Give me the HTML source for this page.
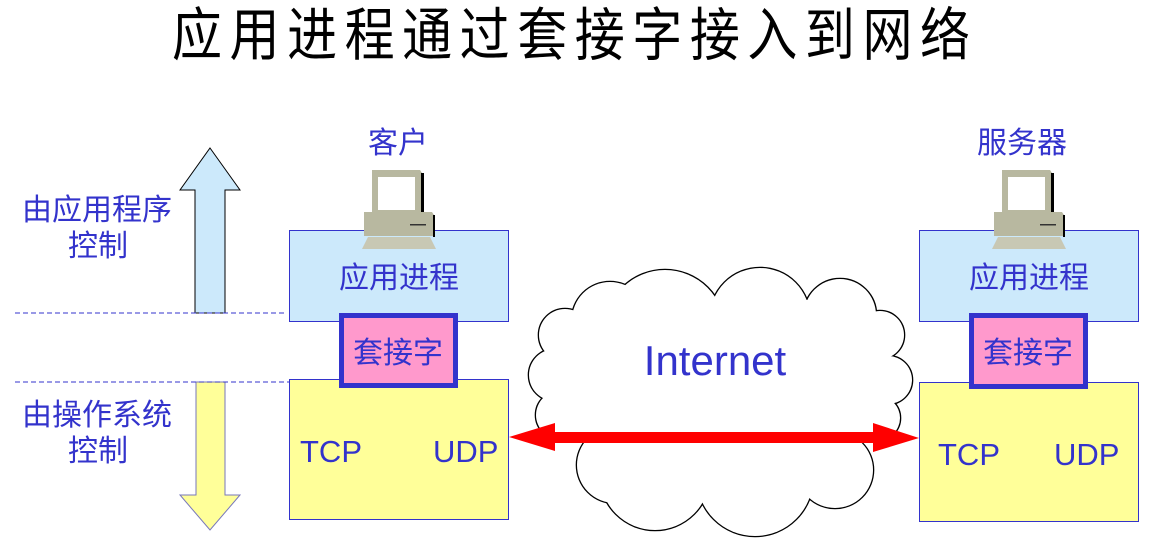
<!DOCTYPE html>
<html><head><meta charset="utf-8"><style>
html,body{margin:0;padding:0;background:#fff;}
svg{display:block;}
text{font-family:"Liberation Sans","Noto Sans CJK SC",sans-serif;}
</style></head><body>
<svg width="1149" height="556" viewBox="0 0 1149 556" xmlns="http://www.w3.org/2000/svg">
<defs>
<g id="pc">
  <polygon points="10,0 58,0 60,3 60,45 10,45" fill="#b8b8a0"/>
  <rect x="59" y="3" width="3" height="43" fill="#000"/>
  <rect x="16" y="7" width="37" height="33" fill="#fff"/>
  <polygon points="2,42 70,42 72,45 72,66 2,66" fill="#b8b8a0"/>
  <rect x="71" y="45" width="2" height="22" fill="#000"/>
  <rect x="48" y="54" width="16" height="1.5" fill="#333"/>
  <polygon points="6,67 68,67 74,79 0,79" fill="#c8c8b4"/>
</g>
</defs>
<text x="172" y="55" font-size="50" textLength="798" lengthAdjust="spacing" fill="#000" transform="translate(0,-8) scale(1,1.15)">应用进程通过套接字接入到网络</text>

<!-- left arrows -->
<polygon points="210,148 240,190 225,190 225,313 195,313 195,190 180,190" fill="#cce9fb" stroke="#000" stroke-width="1"/>
<polygon points="196,382 225,382 225,495 240,495 210,530 180,495 196,495" fill="#ffff99" stroke="#7777bb" stroke-width="1"/>
<line x1="15" y1="313" x2="287" y2="313" stroke="#3333cc" stroke-dasharray="5,3" stroke-width="1"/>
<line x1="15" y1="382" x2="297" y2="382" stroke="#3333cc" stroke-dasharray="5,3" stroke-width="1"/>
<g font-size="30" fill="#3333cc">
<text x="22" y="220">由应用程序</text>
<text x="68" y="256">控制</text>
<text x="22" y="425">由操作系统</text>
<text x="68" y="461">控制</text>
</g>

<!-- left stack -->
<text x="398" y="153" font-size="30" fill="#3333cc" text-anchor="middle">客户</text>
<rect x="289.5" y="230.5" width="219" height="91" fill="#cce9fb" stroke="#3333cc"/>
<rect x="289.5" y="379.5" width="219" height="140" fill="#ffff99" stroke="#3333cc"/>
<use href="#pc" x="362" y="170"/>
<text x="399" y="288" font-size="30" fill="#3333cc" text-anchor="middle">应用进程</text>
<rect x="341.5" y="315.5" width="114" height="70" fill="#ff99cc" stroke="#3333cc" stroke-width="5"/>
<text x="398" y="363" font-size="30" fill="#3333cc" text-anchor="middle">套接字</text>
<text x="300" y="462" font-size="31" fill="#3333cc">TCP</text>
<text x="433" y="462" font-size="31" fill="#3333cc">UDP</text>

<!-- right stack -->
<text x="1022" y="153" font-size="30" fill="#3333cc" text-anchor="middle">服务器</text>
<rect x="919.5" y="230.5" width="219" height="91" fill="#cce9fb" stroke="#3333cc"/>
<rect x="919.5" y="382.5" width="219" height="139" fill="#ffff99" stroke="#3333cc"/>
<use href="#pc" x="992" y="170"/>
<text x="1029" y="288" font-size="30" fill="#3333cc" text-anchor="middle">应用进程</text>
<rect x="971.5" y="315.5" width="114" height="71" fill="#ff99cc" stroke="#3333cc" stroke-width="5"/>
<text x="1028" y="363" font-size="30" fill="#3333cc" text-anchor="middle">套接字</text>
<text x="938" y="465" font-size="31" fill="#3333cc">TCP</text>
<text x="1054" y="465" font-size="31" fill="#3333cc">UDP</text>

<!-- cloud -->
<g stroke="#000" stroke-width="2.6" fill="#fff">
<circle cx="555" cy="375" r="26"/>
<circle cx="565" cy="335" r="26"/>
<circle cx="560" cy="415" r="24"/>
<circle cx="880" cy="335" r="24"/>
<circle cx="888" cy="380" r="24"/>
<circle cx="878" cy="418" r="22"/>
<circle cx="610" cy="320" r="38"/>
<circle cx="840" cy="315" r="36"/>
<circle cx="615" cy="465" r="38"/>
<circle cx="835" cy="470" r="38"/>
<circle cx="665" cy="330" r="60"/>
<circle cx="760" cy="318" r="50"/>
<circle cx="820" cy="380" r="55"/>
<circle cx="615" cy="395" r="45"/>
<circle cx="655" cy="475" r="55"/>
<circle cx="755" cy="478" r="58"/>
</g>
<g fill="#fff">
<circle cx="555" cy="375" r="26"/>
<circle cx="565" cy="335" r="26"/>
<circle cx="560" cy="415" r="24"/>
<circle cx="880" cy="335" r="24"/>
<circle cx="888" cy="380" r="24"/>
<circle cx="878" cy="418" r="22"/>
<circle cx="610" cy="320" r="38"/>
<circle cx="840" cy="315" r="36"/>
<circle cx="615" cy="465" r="38"/>
<circle cx="835" cy="470" r="38"/>
<circle cx="665" cy="330" r="60"/>
<circle cx="760" cy="318" r="50"/>
<circle cx="820" cy="380" r="55"/>
<circle cx="615" cy="395" r="45"/>
<circle cx="655" cy="475" r="55"/>
<circle cx="755" cy="478" r="58"/>
<rect x="560" y="320" width="325" height="120"/>
<rect x="600" y="300" width="240" height="170"/>
</g>
<text x="715" y="375" font-size="42" fill="#3333cc" text-anchor="middle">Internet</text>

<!-- red arrow -->
<polygon points="509,437 555,423 555,432 873,432 873,423 919,438 873,452 873,443 555,443 555,451" fill="#ff0000"/>
</svg>
</body></html>
